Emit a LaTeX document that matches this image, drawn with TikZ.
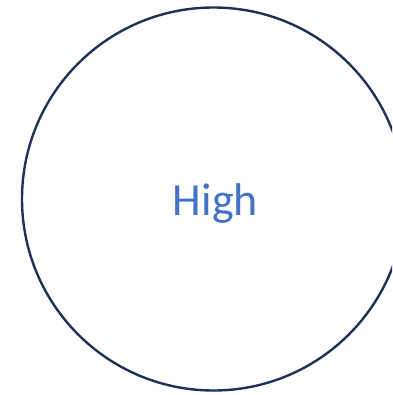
\documentclass[tikz,border=0pt]{standalone}
\usepackage{fontspec}
\setmainfont{Carlito}
\usepackage{tikz}
\usetikzlibrary{positioning}
\usepackage{xcolor}
\definecolor{ringnavy}{HTML}{1F3157}
\definecolor{levelblue}{HTML}{4472C4}

\begin{document}
\begin{tikzpicture}[
  x=1pt, y=-1pt,
  levelcircle/.style={
    circle, draw=ringnavy, line width=2.4pt,
    minimum size=383pt, inner sep=0pt
  },
  leveltext/.style={
    font=\fontsize{46}{54}\selectfont, text=levelblue,
    inner sep=0pt, anchor=base
  }
]
  \useasboundingbox (0,0) rectangle (392,395);
  \clip (0,0) rectangle (392,395);

  \node[levelcircle] (ring) at (213.5,199) {};
  \node[leveltext] (high) at (215.5,215.7) {High};
\end{tikzpicture}
\end{document}
